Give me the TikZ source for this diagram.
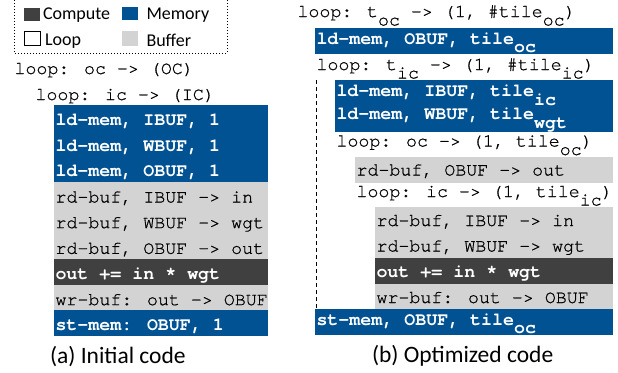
\documentclass[tikz,border=0pt]{standalone}
\usepackage{fontspec}
\setmainfont{Carlito}
\newfontfamily\codefam{TeX Gyre Cursor}
\newfontfamily\coderegfam{TeX Gyre Cursor}[FakeBold=0.7]
\definecolor{memblue}{RGB}{0,82,147}
\definecolor{compgray}{RGB}{64,64,64}
\definecolor{bufgray}{RGB}{211,211,211}
\newcommand{\lowsub}[1]{\raisebox{-8.5pt}{#1}}
\newcommand{\codesize}{\coderegfam\fontsize{18.3}{20}\selectfont}
\newcommand{\codebold}{\codefam\fontsize{18.3}{20}\selectfont\bfseries}
\newcommand{\legsize}{\fontsize{18}{20}\selectfont}
\newcommand{\capsize}{\fontsize{23.5}{26}\selectfont}
\begin{document}
\begin{tikzpicture}[x=1pt,y=-1pt,
  every node/.style={inner sep=0pt, outer sep=0pt},
  rowfill/.style={anchor=north west, minimum height=26pt},
  memfill/.style={rowfill, fill=memblue},
  buffill/.style={rowfill, fill=bufgray},
  compfill/.style={rowfill, fill=compgray},
  codetxt/.style={anchor=base west, font=\codesize, text=black},
  boldtxt/.style={anchor=base west, font=\codebold, text=white},
  legsq/.style={minimum width=16pt, minimum height=13pt},
  legtext/.style={anchor=base west, font=\legsize},
  captext/.style={anchor=base west, font=\capsize},
]
\useasboundingbox (0,0) rectangle (618,372);
% legend
\coordinate (lga) at (14,0);
\coordinate (lgb) at (14,53);
\coordinate (lgc) at (227,53);
\coordinate (lgd) at (227,0);
\draw[line width=0.8pt, dash pattern=on 1pt off 2pt] (lga) -- (lgb) -- (lgc) -- (lgd);
\node[legsq, fill=compgray] (sqc) at (32,14) {};
\node[legtext] (tc) at (43,19) {Compute};
\node[legsq, fill=memblue] (sqm) at (130.3,13.7) {};
\node[legtext] (tm) at (146.5,19) {Memory};
\node[legsq, draw=black, line width=0.7pt, fill=white, minimum height=14pt] (sql) at (32,38) {};
\node[legtext] (tl) at (45,45.7) {Loop};
\node[legsq, fill=bufgray, minimum height=15pt] (sqb) at (130,38.7) {};
\node[legtext] (tb) at (146.5,46) {Buffer};
% left column: fills
\node[memfill, minimum width=214pt] (a1) at (54,105) {};
\node[memfill, minimum width=214pt] (a2) at (54,130.67) {};
\node[memfill, minimum width=214pt] (a3) at (54,156.33) {};
\node[buffill, minimum width=214pt] (a4) at (54,182) {};
\node[buffill, minimum width=214pt] (a5) at (54,207.67) {};
\node[buffill, minimum width=214pt] (a6) at (54,233.33) {};
\node[compfill, minimum width=214pt] (a7) at (54,259) {};
\node[buffill, minimum width=214pt] (a8) at (54,284.67) {};
\node[memfill, minimum width=214pt, minimum height=25.67pt] (a9) at (54,310.33) {};
% left column: texts
\node[codetxt] (la) at (14.5,74) {loop: oc -> (OC)};
\node[codetxt] (lb) at (35.5,100) {loop: ic -> (IC)};
\node[boldtxt] (a1t) at (55.5,125.5) {ld-mem, IBUF, 1};
\node[boldtxt] (a2t) at (55.5,151.17) {ld-mem, WBUF, 1};
\node[boldtxt] (a3t) at (55.5,176.83) {ld-mem, OBUF, 1};
\node[codetxt] (a4t) at (55.5,202.5) {rd-buf, IBUF -> in};
\node[codetxt] (a5t) at (55.5,228.17) {rd-buf, WBUF -> wgt};
\node[codetxt] (a6t) at (55.5,253.83) {rd-buf, OBUF -> out};
\node[boldtxt] (a7t) at (55.5,279.5) {out += in * wgt};
\node[codetxt] (a8t) at (55.5,305.17) {wr-buf: out -> OBUF};
\node[boldtxt] (a9t) at (55.5,330.83) {st-mem: OBUF, 1};
\node[captext] (capa) at (50,363.3) {(a) Initial code};
% right column: fills
\node[memfill, minimum width=298pt] (b1) at (315,28) {};
\node[memfill, minimum width=278pt] (b2) at (335,80) {};
\node[memfill, minimum width=278pt] (b3) at (335,105.5) {};
\node[buffill, minimum width=258pt] (b4) at (355,157) {};
\node[buffill, minimum width=238pt] (b5) at (375,207) {};
\node[buffill, minimum width=238pt] (b6) at (375,232.5) {};
\node[compfill, minimum width=238pt] (b7) at (375,258) {};
\node[buffill, minimum width=238pt, minimum height=25pt] (b8) at (375,284) {};
\node[memfill, minimum width=298pt] (b9) at (315,309) {};
% right column: texts
\node[codetxt] (lc) at (297.5,17) {loop: t\lowsub{oc} -> (1, \#tile\lowsub{oc})};
\node[boldtxt] (b1t) at (316.5,44) {ld-mem, OBUF, tile\lowsub{oc}};
\node[codetxt] (ld) at (316.5,70) {loop: t\lowsub{ic} -> (1, \#tile\lowsub{ic})};
\node[boldtxt] (b2t) at (336.5,96.5) {ld-mem, IBUF, tile\lowsub{ic}};
\node[boldtxt] (b3t) at (336.5,119.5) {ld-mem, WBUF, tile\lowsub{wgt}};
\node[codetxt] (le) at (336.5,146.5) {loop: oc -> (1, tile\lowsub{oc})};
\node[codetxt] (b4t) at (356.5,175.5) {rd-buf, OBUF -> out};
\node[codetxt] (lf) at (356.5,197) {loop: ic -> (1, tile\lowsub{ic})};
\node[codetxt] (b5t) at (376.5,226) {rd-buf, IBUF -> in};
\node[codetxt] (b6t) at (376.5,251.5) {rd-buf, WBUF -> wgt};
\node[boldtxt] (b7t) at (376.5,277.7) {out += in * wgt};
\node[codetxt] (b8t) at (376.5,303) {wr-buf: out -> OBUF};
\node[boldtxt] (b9t) at (316.5,325) {st-mem, OBUF, tile\lowsub{oc}};
\coordinate (dtop) at (316.7,80);
\coordinate (dbot) at (316.7,309);
\draw[line width=0.8pt, dash pattern=on 4pt off 3pt] (dtop) -- (dbot);
\node[captext] (capb) at (372,362.3) {(b) Optimized code};
\end{tikzpicture}
\end{document}
